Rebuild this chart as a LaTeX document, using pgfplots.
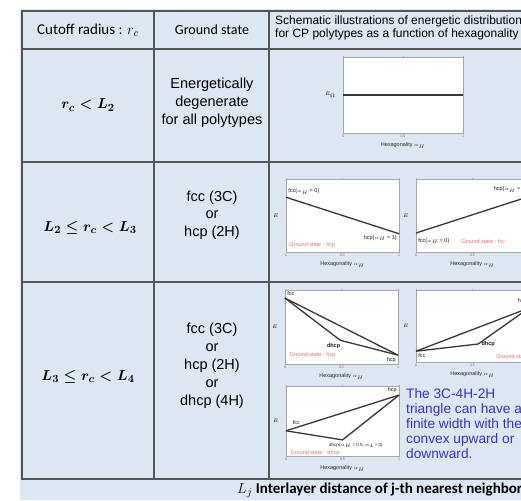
\documentclass[border=0pt]{standalone}
\usepackage{pgfplots}
\pgfplotsset{compat=1.18}
\usepackage{fontspec}
\setmainfont{Liberation Sans}
\newfontfamily\calfont{Carlito}
\definecolor{bg}{RGB}{221,230,241}
\definecolor{gridc}{RGB}{85,85,85}
\definecolor{bluetxt}{RGB}{51,51,214}
\definecolor{redtxt}{RGB}{226,110,110}
\definecolor{ln}{RGB}{55,55,55}
\pgfplotsset{mini/.style={scale only axis, anchor=south west, xmin=0,xmax=1,ymin=0,ymax=1, clip=false,
 axis background/.style={fill=white},
 axis line style={draw=gray!70, line width=0.8pt},
 xtick={0,0.5,1}, xticklabels={0,0.5,1}, ytick=\empty,
 major tick length=1.2pt, tick align=outside, tick style={gray!70},
 xticklabel style={font=\fontsize{3.5}{4}\selectfont, text=gray!80!black, inner sep=1pt},
 xlabel={Hexagonality $\alpha_H$},
 xlabel style={font=\fontsize{5.5}{6}\selectfont, text=gray!30!black, at={(axis description cs:0.5,0)}, anchor=north, yshift=-6pt},
 ylabel={$E$}, ylabel style={font=\fontsize{5}{6}\selectfont, rotate=-90, at={(axis description cs:0,0.5)}, anchor=east, xshift=-4pt},
}}
\tikzset{
lab/.style={font=\fontsize{5.5}{6}\selectfont, text=gray!20!black, inner sep=1pt},
gs/.style={font=\fontsize{5.5}{6}\selectfont, text=redtxt, inner sep=1pt, anchor=west},
mathc/.style={font=\boldmath\fontsize{15}{18}\selectfont},
}
\begin{document}
\begin{tikzpicture}
\useasboundingbox (0pt,0pt) rectangle (521pt,500pt);
\clip (0pt,0pt) rectangle (521pt,500pt);
\fill[bg] (20pt,0pt) rectangle (521pt,491pt);
% table lines
\begin{scope}[draw=gridc, line width=1.4pt]
\draw (530pt,489pt) -- (22pt,489pt) -- (22pt,21pt) -- (530pt,21pt);
\draw (22pt,451pt) -- (530pt,451pt);
\draw (22pt,338pt) -- (530pt,338pt);
\draw (22pt,218pt) -- (530pt,218pt);
\draw (154pt,489pt) -- (154pt,21pt);
\draw (269pt,489pt) -- (269pt,21pt);
\end{scope}
% headers
\node[font=\calfont\fontsize{15}{18}\selectfont] at (88pt,470pt) {Cutoff radius : $r_c$};
\node[font=\calfont\fontsize{14}{18}\selectfont] at (212pt,470pt) {Ground state};
\node[font=\fontsize{12}{13}\selectfont, anchor=north west, align=left, inner sep=0pt] at (275pt,484pt) {Schematic illustrations of energetic distributions\\for CP polytypes as a function of hexagonality};
% column 1
\node[mathc] at (88pt,395pt) {$r_c < L_2$};
\node[mathc] at (90pt,272pt) {$L_2 \le r_c < L_3$};
\node[mathc] at (88pt,123pt) {$L_3 \le r_c < L_4$};
% column 2
\node[font=\fontsize{14.5}{18}\selectfont, align=center] at (212pt,397pt) {Energetically\\degenerate\\for all polytypes};
\node[font=\fontsize{14.5}{17.5}\selectfont, align=center] at (212pt,285pt) {fcc (3C)\\or\\hcp (2H)};
\node[font=\fontsize{14.5}{18}\selectfont, align=center] at (212pt,134pt) {fcc (3C)\\or\\hcp (2H)\\or\\dhcp (4H)};
% blue note
\node[font=\fontsize{13.7}{15}\selectfont, text=bluetxt, anchor=west, align=left, inner sep=0pt] at (406pt,76pt) {The 3C-4H-2H\\triangle can have a\\finite width with the\\convex upward or\\downward.};
% footnote
\node[font=\calfont\bfseries\fontsize{15}{17}\selectfont, anchor=west, inner sep=0pt] at (237pt,10pt) {$L_j$ Interlayer distance of j-th nearest neighbor};

% row 1 plot
\begin{axis}[mini, at={(343pt,367pt)}, width=120pt, height=76pt, ylabel={$E_\Omega$}]
\addplot[ln, line width=1.2pt] coordinates {(0,0.5) (1,0.5)};
\end{axis}
% row 2 plot A
\begin{axis}[mini, at={(286pt,248pt)}, width=113pt, height=73pt]
\addplot[ln, line width=1.3pt] coordinates {(0,0.75) (1,0.25)};
\node[lab, anchor=west] at (axis cs:0.01,0.83) {fcc($\alpha_H$ = 0)};
\node[lab, anchor=east] at (axis cs:0.99,0.19) {hcp($\alpha_H$ = 1)};
\node[gs] at (axis cs:0.02,0.09) {Ground state : hcp};
\end{axis}
% row 2 plot B
\begin{axis}[mini, at={(416pt,248pt)}, width=113pt, height=73pt]
\addplot[ln, line width=1.3pt] coordinates {(0,0.26) (1,0.76)};
\node[lab, anchor=east] at (axis cs:0.99,0.86) {hcp($\alpha_H$ = 1)};
\node[lab, anchor=west] at (axis cs:0.01,0.15) {fcc($\alpha_H$ = 0)};
\node[gs] at (axis cs:0.39,0.15) {Ground state : fcc};
\end{axis}
% row 3 plot C
\begin{axis}[mini, at={(285pt,136pt)}, width=113pt, height=74pt]
\addplot[ln, line width=1.3pt] coordinates {(0,0.89) (1,0.12)};
\addplot[ln, line width=1.3pt] coordinates {(0,0.89) (0.49,0.32) (1,0.12)};
\node[lab, anchor=north west] at (axis cs:0.01,0.99) {fcc};
\node[lab, anchor=north east] at (axis cs:0.99,0.1) {hcp};
\node[lab, font=\bfseries\fontsize{5.5}{6}\selectfont] at (axis cs:0.43,0.24) {dhcp};
\node[gs] at (axis cs:0.03,0.12) {Ground state : hcp};
\end{axis}
% row 3 plot D
\begin{axis}[mini, at={(416pt,138pt)}, width=113pt, height=72pt]
\addplot[ln, line width=1.3pt] coordinates {(0,0.15) (1,0.75)};
\addplot[ln, line width=1.3pt] coordinates {(0,0.15) (0.55,0.25) (1,0.75)};
\node[lab, anchor=north west] at (axis cs:0.01,0.13) {fcc};
\node[lab, anchor=east] at (axis cs:0.99,0.84) {hcp};
\node[lab, anchor=west, font=\bfseries\fontsize{5.5}{6}\selectfont] at (axis cs:0.57,0.25) {dhcp};
\node[gs] at (axis cs:0.7,0.07) {Ground state : fcc};
\end{axis}
% row 3 plot E
\begin{axis}[mini, at={(286pt,44pt)}, width=113pt, height=70pt]
\addplot[ln, line width=1.3pt] coordinates {(0,0.36) (1,0.87)};
\addplot[ln, line width=1.3pt] coordinates {(0,0.36) (0.5,0.23) (1,0.87)};
\node[lab, anchor=south west] at (axis cs:0.05,0.43) {fcc};
\node[lab, anchor=north east] at (axis cs:0.99,0.99) {hcp};
\node[lab, anchor=west, font=\fontsize{4.5}{5}\selectfont] at (axis cs:0.37,0.15) {dhcp($\alpha_H$ = 0.5, $\alpha_4$ = 0)};
\node[gs] at (axis cs:0.03,0.04) {Ground state : dhcp};
\end{axis}
\end{tikzpicture}
\end{document}
